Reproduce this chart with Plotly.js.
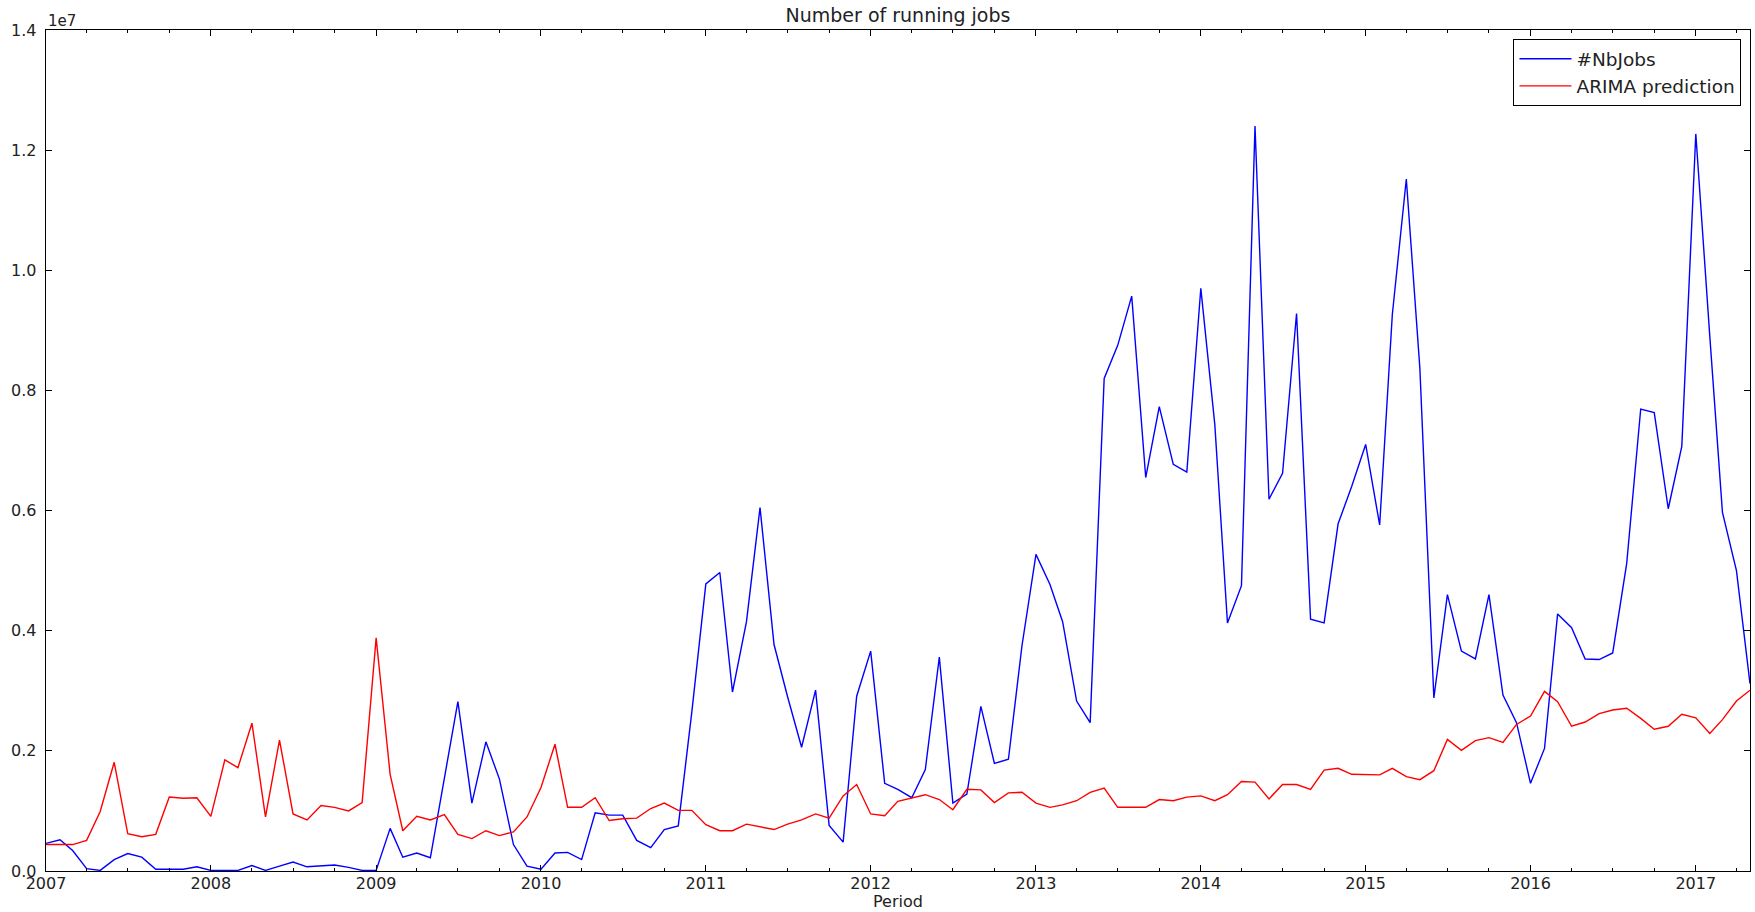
<!DOCTYPE html>
<html>
<head>
<meta charset="utf-8">
<script src="https://cdn.plot.ly/plotly-3.0.1.min.js"></script>
<style>html,body{margin:0;padding:0;background:#fff;}#chart{width:1755px;height:912px;}</style>
</head>
<body>
<div id="chart"></div>
<script>
// Monthly periods (2007-01 .. 2017-05)
const period = [
  '2007-01','2007-02','2007-03','2007-04','2007-05','2007-06','2007-07','2007-08','2007-09','2007-10','2007-11','2007-12',
  '2008-01','2008-02','2008-03','2008-04','2008-05','2008-06','2008-07','2008-08','2008-09','2008-10','2008-11','2008-12',
  '2009-01','2009-02','2009-03','2009-04','2009-05','2009-06','2009-07','2009-08','2009-09','2009-10','2009-11','2009-12',
  '2010-01','2010-02','2010-03','2010-04','2010-05','2010-06','2010-07','2010-08','2010-09','2010-10','2010-11','2010-12',
  '2011-01','2011-02','2011-03','2011-04','2011-05','2011-06','2011-07','2011-08','2011-09','2011-10','2011-11','2011-12',
  '2012-01','2012-02','2012-03','2012-04','2012-05','2012-06','2012-07','2012-08','2012-09','2012-10','2012-11','2012-12',
  '2013-01','2013-02','2013-03','2013-04','2013-05','2013-06','2013-07','2013-08','2013-09','2013-10','2013-11','2013-12',
  '2014-01','2014-02','2014-03','2014-04','2014-05','2014-06','2014-07','2014-08','2014-09','2014-10','2014-11','2014-12',
  '2015-01','2015-02','2015-03','2015-04','2015-05','2015-06','2015-07','2015-08','2015-09','2015-10','2015-11','2015-12',
  '2016-01','2016-02','2016-03','2016-04','2016-05','2016-06','2016-07','2016-08','2016-09','2016-10','2016-11','2016-12',
  '2017-01','2017-02','2017-03','2017-04','2017-05'
];

// Number of running jobs, in units of 1e6 (axis shows 1e7 offset: 0.2 = 2e6)
const nbJobs = [
  0.46, 0.52, 0.34, 0.04, 0.01, 0.19, 0.29, 0.23, 0.03, 0.03, 0.03, 0.07,
  0.01, 0.01, 0.01, 0.09, 0.01, 0.08, 0.15, 0.07, 0.08, 0.10, 0.06, 0.01,
  0.01, 0.71, 0.23, 0.30, 0.22, 1.55, 2.82, 1.13, 2.15, 1.53, 0.44, 0.08,
  0.03, 0.30, 0.31, 0.19, 0.97, 0.93, 0.93, 0.51, 0.39, 0.69, 0.75, 2.65,
  4.78, 4.97, 2.98, 4.15, 6.05, 3.77, 2.90, 2.06, 3.01, 0.76, 0.48, 2.91,
  3.66, 1.46, 1.36, 1.22, 1.69, 3.56, 1.13, 1.28, 2.74, 1.79, 1.86, 3.75,
  5.27, 4.77, 4.15, 2.83, 2.47, 8.20, 8.75, 9.57, 6.55, 7.73, 6.77, 6.64,
  9.70, 7.43, 4.13, 4.75, 12.40, 6.19, 6.62, 9.28, 4.19, 4.13, 5.78, 6.40,
  7.10, 5.76, 9.26, 11.52, 8.37, 2.88, 4.60, 3.66, 3.53, 4.60, 2.93, 2.47,
  1.46, 2.04, 4.28, 4.05, 3.53, 3.52, 3.63, 5.12, 7.69, 7.63, 6.03, 7.07,
  12.27, 8.90, 5.97, 5.00, 3.12
];

// ARIMA prediction, in units of 1e6
const arimaPrediction = [
  0.44, 0.44, 0.44, 0.51, 0.99, 1.81, 0.62, 0.57, 0.61, 1.23, 1.21, 1.22,
  0.91, 1.85, 1.72, 2.46, 0.90, 2.18, 0.95, 0.85, 1.09, 1.06, 1.00, 1.14,
  3.88, 1.61, 0.67, 0.91, 0.85, 0.94, 0.61, 0.54, 0.67, 0.59, 0.65, 0.90,
  1.39, 2.11, 1.06, 1.06, 1.22, 0.84, 0.87, 0.88, 1.04, 1.13, 1.01, 1.01,
  0.77, 0.67, 0.67, 0.78, 0.73, 0.69, 0.78, 0.85, 0.95, 0.88, 1.25, 1.44,
  0.95, 0.92, 1.16, 1.21, 1.27, 1.19, 1.02, 1.36, 1.35, 1.14, 1.30, 1.31,
  1.13, 1.06, 1.10, 1.17, 1.31, 1.38, 1.06, 1.06, 1.06, 1.19, 1.17, 1.23,
  1.25, 1.17, 1.27, 1.49, 1.48, 1.20, 1.44, 1.44, 1.36, 1.68, 1.71, 1.61,
  1.61, 1.60, 1.71, 1.57, 1.52, 1.67, 2.19, 2.01, 2.17, 2.22, 2.14, 2.44,
  2.58, 2.99, 2.82, 2.41, 2.48, 2.62, 2.68, 2.71, 2.54, 2.36, 2.41, 2.61,
  2.55, 2.29, 2.52, 2.83, 3.01
];

const seriesNames = ['#NbJobs', 'ARIMA prediction'];
const yTickValues = [0, 2, 4, 6, 8, 10, 12, 14];
const yTickLabels = ['0.0', '0.2', '0.4', '0.6', '0.8', '1.0', '1.2', '1.4'];

const FONT = 'DejaVu Sans, Liberation Sans, sans-serif';

const traces = [
  {x: period, y: nbJobs, name: seriesNames[0], type: 'scatter', mode: 'lines',
   line: {color: '#0000ff', width: 1.4}},
  {x: period, y: arimaPrediction, name: seriesNames[1], type: 'scatter', mode: 'lines',
   line: {color: '#ff0000', width: 1.4}}
];

const axisCommon = {
  showline: true, linecolor: '#000', linewidth: 1.3, mirror: 'ticks',
  ticks: 'inside', ticklen: 6, tickwidth: 1, tickcolor: '#000',
  showgrid: false, zeroline: false,
  tickfont: {family: FONT, size: 16, color: '#222'}
};

const layout = {
  width: 1755, height: 912,
  margin: {l: 46, r: 5, t: 30, b: 41},
  paper_bgcolor: '#fff', plot_bgcolor: '#fff',
  font: {family: FONT, size: 16, color: '#222'},
  title: {text: 'Number of running jobs', font: {family: FONT, size: 19, color: '#222'},
          xref: 'paper', x: 0.5, xanchor: 'center', yref: 'container', y: 0.983, yanchor: 'middle'},
  showlegend: true,
  legend: {x: 0.995, y: 0.989, xanchor: 'right', yanchor: 'top',
           bordercolor: '#000', borderwidth: 1, bgcolor: '#fff', itemwidth: 52,
           font: {family: FONT, size: 18.5, color: '#222'}, tracegroupgap: 0},
  xaxis: Object.assign({}, axisCommon, {
    type: 'date', range: ['2007-01-01', '2017-05-01'],
    tick0: '2007-01-01', dtick: 'M12', tickformat: '%Y',
    ticklabelstandoff: -3,
    minor: {dtick: 'M3', ticks: 'inside', ticklen: 3, tickcolor: '#000', showgrid: false},
    automargin: false
  }),
  yaxis: Object.assign({}, axisCommon, {
    range: [0, 14], tickmode: 'array', tickvals: yTickValues, ticktext: yTickLabels,
    ticklabelstandoff: 5,
    automargin: false
  }),
  annotations: [
    {text: '1e7', xref: 'paper', yref: 'paper', x: 0, y: 1, xanchor: 'left', yanchor: 'bottom',
     showarrow: false, font: {family: FONT, size: 15, color: '#222'}, yshift: -2},
    {text: 'Period', xref: 'paper', yref: 'paper', x: 0.5, y: -0.0365, xanchor: 'center', yanchor: 'middle',
     showarrow: false, font: {family: FONT, size: 16, color: '#222'}}
  ]
};

Plotly.newPlot('chart', traces, layout, {displayModeBar: false, staticPlot: true});
</script>
</body>
</html>
